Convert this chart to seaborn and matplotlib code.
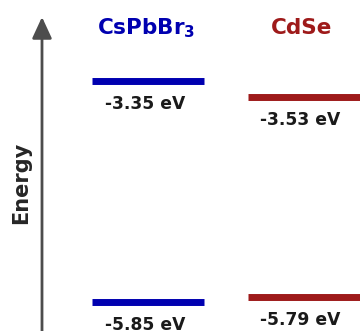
import matplotlib
matplotlib.use("Agg")
import matplotlib.pyplot as plt
import seaborn as sns
import pandas as pd

materials = ["CsPbBr$_\\mathbf{3}$", "CdSe"]
keys = ["CsPbBr3", "CdSe"]
cb_values = [-3.35, -3.53]
vb_values = [-5.85, -5.79]
colors = ["#0000b0", "#9e1a1a"]
axis_label = "Energy"

sns.set_theme(style="white")
plt.rcParams["font.family"] = ["DejaVu Sans"]
plt.rcParams["mathtext.fontset"] = "dejavusans"

fig = plt.figure(figsize=(3.6, 3.31), dpi=100)
ax = fig.add_axes([0, 0, 1, 1])

half = 0.36
rows = []
for i, k in enumerate(keys):
    for lvl, v in (("CB", cb_values[i]), ("VB", vb_values[i])):
        for dx in (-half, half):
            rows.append({"x": i + dx, "E": v, "mat": k, "level": f"{k}-{lvl}"})
df = pd.DataFrame(rows)

sns.lineplot(data=df, x="x", y="E", hue="mat", units="level", estimator=None,
             palette=dict(zip(keys, colors)), lw=5, legend=False, ax=ax,
             solid_capstyle="butt")

ax.set_xlim(-0.952, 1.363)
ax.set_ylim(-6.175, -2.435)
ax.axis("off")

# value labels
off = 23 / 88.5
for i, k in enumerate(keys):
    for v in (cb_values[i], vb_values[i]):
        ax.text(i - 0.02, v - off, f"{v:.2f} eV", ha="center", va="center",
                fontsize=12.3, fontweight="bold", color="#1a1a1a")
    ax.text(i - 0.01, -2.435 - 28 / 88.5, materials[i], ha="center", va="center",
            fontsize=15.5, fontweight="bold", color=colors[i])

# energy arrow
xa = -0.952 + 42 / 155.5
ax.annotate("", xy=(xa, -2.435 - 17 / 88.5), xytext=(xa, -6.3),
            arrowprops=dict(arrowstyle="-|>,head_length=0.65,head_width=0.3",
                            lw=2, color="#4d4d4d", mutation_scale=20,
                            shrinkA=0, shrinkB=0))
ax.text(-0.952 + 21 / 155.5, -2.435 - 183 / 88.5, axis_label, rotation=90,
        ha="center", va="center", fontsize=15, fontweight="bold", color="#262626")

fig.savefig("out.png", dpi=100)
